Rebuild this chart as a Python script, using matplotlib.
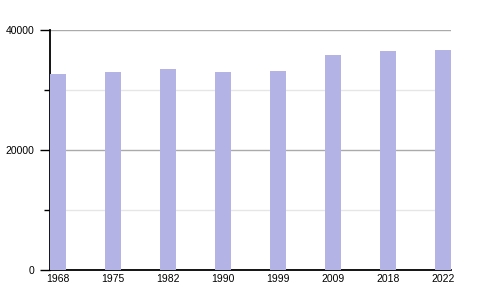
import matplotlib
matplotlib.use('Agg')
import matplotlib.pyplot as plt
import numpy as np

years = ['1968', '1975', '1982', '1990', '1999', '2009', '2018', '2022']
population = [32700, 33000, 33500, 33000, 33100, 35900, 36500, 36700]

plt.rcParams['font.family'] = ['Liberation Sans', 'DejaVu Sans']

fig = plt.figure(figsize=(5, 3), dpi=100)
ax = fig.add_axes([0.1, 0.1, 0.802, 0.8])

# slots are 55 units apart, bars 16 wide, axis ends at the last bar's edge
step = 55
width = 16
x = np.arange(len(years)) * step
ax.bar(x, population, width=width, align='edge', color='#b3b3e6', zorder=3)

ax.set_xlim(0, x[-1] + width)
ax.set_ylim(0, 40000)

# grid: darker major lines, faint minor ones
for v in [20000, 40000]:
    ax.axhline(v, color='#aaaaaa', lw=1, zorder=1)
for v in [10000, 30000]:
    ax.axhline(v, color='#e6e6e6', lw=1, zorder=1)

ax.set_yticks([0, 20000, 40000])
ax.set_yticks([10000, 30000], minor=True)
ax.set_xticks(x + width / 2)
ax.set_xticklabels(years)

ax.tick_params(axis='y', which='major', length=7, width=1, labelsize=7.5, pad=4)
ax.tick_params(axis='y', which='minor', length=4, width=1)
ax.tick_params(axis='x', length=0, labelsize=7.5, pad=3)

for s in ['top', 'right']:
    ax.spines[s].set_visible(False)
ax.spines['left'].set_linewidth(1.3)
ax.spines['bottom'].set_linewidth(1.3)

fig.savefig('out.png', dpi=100)
